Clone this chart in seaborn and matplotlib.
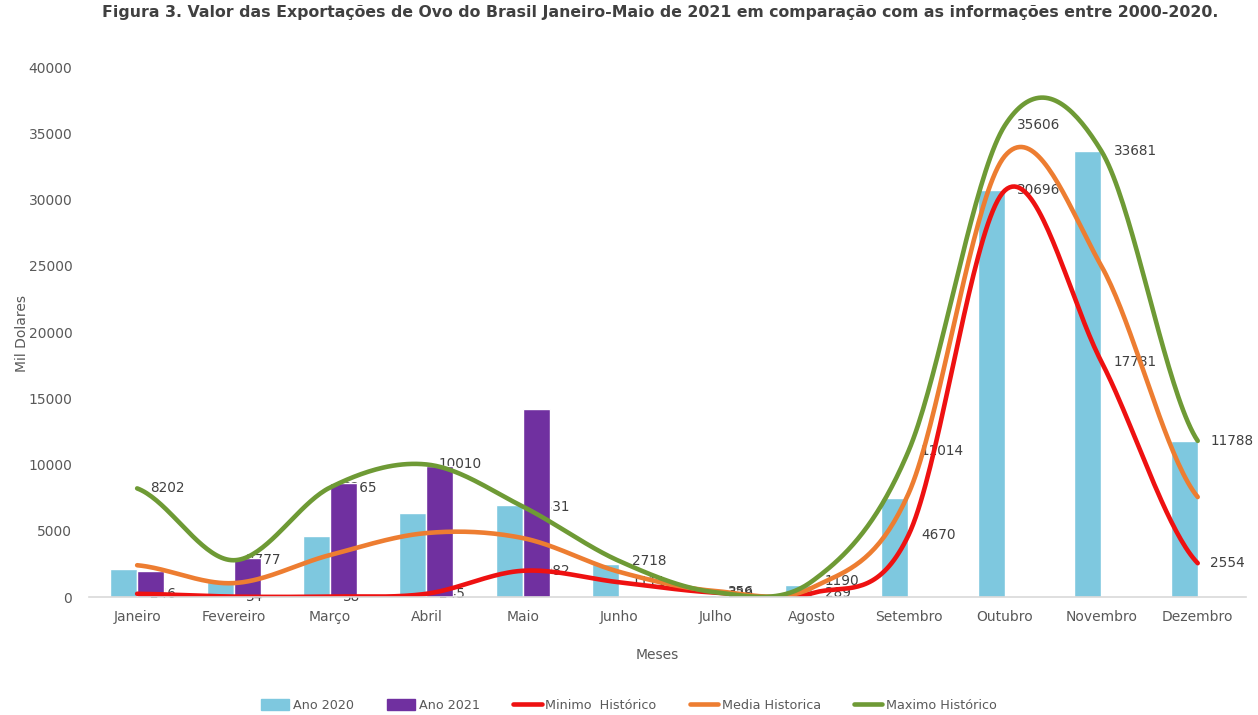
import numpy as np
import pandas as pd
import matplotlib
matplotlib.use("Agg")
import matplotlib.pyplot as plt
import seaborn as sns
from matplotlib.patches import Patch
from matplotlib.lines import Line2D

# dados (mil dolares)
meses = ["Janeiro", "Fevereiro", "Março", "Abril", "Maio", "Junho", "Julho",
         "Agosto", "Setembro", "Outubro", "Novembro", "Dezembro"]
ano_2020 = [2100, 1100, 4600, 6340, 6940, 2500, 150, 900, 7470, 30700, 33681, 11788]
ano_2021 = [2000, 2940, 8600, 9900, 14200, np.nan, np.nan, np.nan, np.nan, np.nan, np.nan, np.nan]
minimo = [246, 34, 38, 245, 1982, 1111, 329, 289, 4670, 30696, 17781, 2554]
media = [2400, 1050, 3170, 4830, 4450, 1900, 450, 700, 7800, 33300, 25000, 7550]
maximo = [8202, 2777, 8265, 10010, 6831, 2718, 356, 1190, 11014, 35606, 33681, 11788]

titulo = ("Figura 3. Valor das Exportações de Ovo do Brasil Janeiro-Maio de 2021 "
          "em comparação com as informações entre 2000-2020.")

cores = {
    "Ano 2020": "#7EC8DF",
    "Ano 2021": "#7030A0",
    "min": "#EE1111",
    "media": "#ED7D31",
    "max": "#6E9A35",
}


def suavizar(y, n=40):
    """Curva suavizada (Catmull-Rom) como no Excel"""
    y = np.asarray(y, float)
    p = np.concatenate([[y[0]], y, [y[-1]]])
    xs, ys = [], []
    t = np.linspace(0, 1, n, endpoint=False)
    for i in range(len(y) - 1):
        p0, p1, p2, p3 = p[i], p[i + 1], p[i + 2], p[i + 3]
        seg = 0.5 * ((2 * p1) + (-p0 + p2) * t + (2 * p0 - 5 * p1 + 4 * p2 - p3) * t ** 2
                     + (-p0 + 3 * p1 - 3 * p2 + p3) * t ** 3)
        xs.extend(i + t)
        ys.extend(seg)
    xs.append(len(y) - 1)
    ys.append(y[-1])
    return np.array(xs), np.array(ys)


sns.set_theme(style="white")
plt.rcParams["font.family"] = ["DejaVu Sans"]

fig = plt.figure(figsize=(12.58, 7.15), dpi=100)
ax = fig.add_axes([0.0707, 0.165, 0.9197, 0.741])

df = pd.DataFrame({
    "Mes": meses * 2,
    "Valor": ano_2020 + ano_2021,
    "Serie": ["Ano 2020"] * 12 + ["Ano 2021"] * 12,
})
sns.barplot(data=df, x="Mes", y="Valor", hue="Serie",
            palette=[cores["Ano 2020"], cores["Ano 2021"]],
            width=0.56, saturation=1, gap=0, legend=False, ax=ax, zorder=1)

for serie, cor in [(minimo, cores["min"]), (media, cores["media"]), (maximo, cores["max"])]:
    xs, ys = suavizar(serie)
    ax.plot(xs, ys, color=cor, lw=3.3, solid_capstyle="round", zorder=2)

# rotulos de minimo e maximo ficam atras das barras, como no original
for serie in [minimo, maximo]:
    for i, v in enumerate(serie):
        ax.annotate(str(v), xy=(i, v), xytext=(9, 0), textcoords="offset points",
                    ha="left", va="center", fontsize=9.8, color="#404040", zorder=0.5)

ax.set_xlim(-0.5, 11.5)
ax.set_ylim(0, 40000)
ax.set_yticks(range(0, 40001, 5000))
for s in ["top", "right", "left"]:
    ax.spines[s].set_visible(False)
ax.spines["bottom"].set_color("#D9D9D9")
ax.spines["bottom"].set_linewidth(1.2)
ax.tick_params(axis="both", length=0, colors="#595959", labelsize=10)
ax.tick_params(axis="y", pad=12)
ax.tick_params(axis="x", pad=9)

ax.set_xlabel("Meses", fontsize=10, color="#595959")
ax.xaxis.set_label_coords(0.491, -0.097)
ax.set_ylabel("Mil Dolares", fontsize=10, color="#595959")
ax.yaxis.set_label_coords(-0.052, 0.498)

fig.text(0.5246, 0.983, titulo, ha="center", va="center", fontsize=11.3,
         fontweight="bold", color="#404040")

handles = [
    Patch(color=cores["Ano 2020"]),
    Patch(color=cores["Ano 2021"]),
    Line2D([], [], color=cores["min"], lw=3.3),
    Line2D([], [], color=cores["media"], lw=3.3),
    Line2D([], [], color=cores["max"], lw=3.3),
]
labels = ["Ano 2020", "Ano 2021", "Minimo  Histórico", "Media Historica", "Maximo Histórico"]
fig.legend(handles, labels, loc="center", bbox_to_anchor=(0.5, 0.013), ncol=5,
           frameon=False, fontsize=9.2, handlelength=2.2, handleheight=0.9,
           columnspacing=2.6, handletextpad=0.3, labelcolor="#595959")

fig.savefig("out.png", dpi=100)
